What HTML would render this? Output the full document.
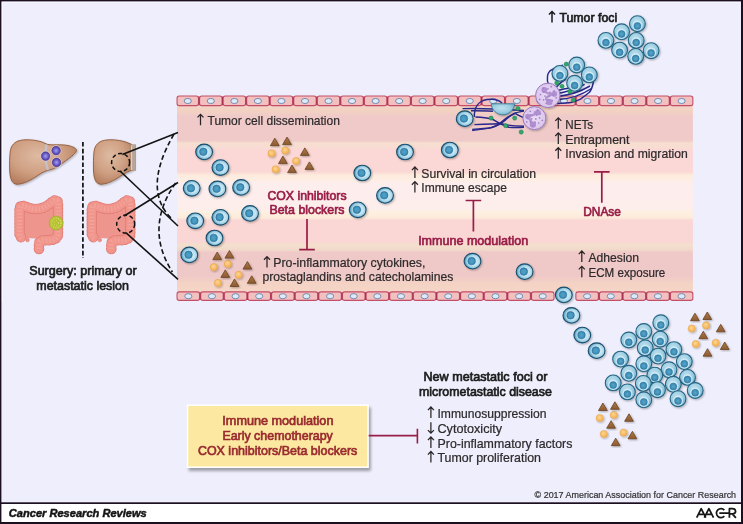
<!DOCTYPE html>
<html><head><meta charset="utf-8"><title>Figure</title>
<style>html,body{margin:0;padding:0;background:#EEEEFC;} svg{will-change:transform;} svg text{font-family:"Liberation Sans", sans-serif;}</style>
</head><body>
<svg width="743" height="524" viewBox="0 0 743 524" style="display:block">

<defs>
 <linearGradient id="vessel" x1="0" y1="105" x2="0" y2="292" gradientUnits="userSpaceOnUse">
  <stop offset="0.0000" stop-color="#F3D4C3"/>
  <stop offset="0.0374" stop-color="#F2D1C3"/>
  <stop offset="0.0588" stop-color="#EFCAC8"/>
  <stop offset="0.1898" stop-color="#EFCAC9"/>
  <stop offset="0.2032" stop-color="#F6DED0"/>
  <stop offset="0.2246" stop-color="#F8DDD2"/>
  <stop offset="0.2380" stop-color="#FBD8D5"/>
  <stop offset="0.3583" stop-color="#FBD8D5"/>
  <stop offset="0.3743" stop-color="#FDEBDC"/>
  <stop offset="0.4011" stop-color="#FDEDE4"/>
  <stop offset="0.4225" stop-color="#FDEEEE"/>
  <stop offset="0.5561" stop-color="#FDEEEC"/>
  <stop offset="0.5749" stop-color="#FDF0E0"/>
  <stop offset="0.6016" stop-color="#FDEBDC"/>
  <stop offset="0.6176" stop-color="#FAD6D4"/>
  <stop offset="0.7326" stop-color="#FAD6D4"/>
  <stop offset="0.7460" stop-color="#F4DFCD"/>
  <stop offset="0.7727" stop-color="#F2DACB"/>
  <stop offset="0.7888" stop-color="#EFC9C7"/>
  <stop offset="0.9144" stop-color="#EFC9C7"/>
  <stop offset="0.9572" stop-color="#F4D3C5"/>
  <stop offset="1.0000" stop-color="#F5D5C5"/>
 </linearGradient>
 <radialGradient id="tcFill" cx="0.45" cy="0.38" r="0.65">
  <stop offset="0" stop-color="#C0E1EF"/>
  <stop offset="0.55" stop-color="#9FCFE3"/>
  <stop offset="0.85" stop-color="#7DB9D4"/>
  <stop offset="1" stop-color="#62A6C7"/>
 </radialGradient>
 <radialGradient id="tcNuc" cx="0.5" cy="0.5" r="0.5">
  <stop offset="0" stop-color="#5AA6CA"/>
  <stop offset="1" stop-color="#3584AE"/>
 </radialGradient>
 <radialGradient id="ccFill" cx="0.56" cy="0.5" r="0.55">
  <stop offset="0" stop-color="#D2ECF6"/>
  <stop offset="0.5" stop-color="#C2E4F1"/>
  <stop offset="0.72" stop-color="#A2D1E5"/>
  <stop offset="0.88" stop-color="#66AACB"/>
  <stop offset="1" stop-color="#4A92B8"/>
 </radialGradient>
 <radialGradient id="ccNuc" cx="0.5" cy="0.5" r="0.5">
  <stop offset="0" stop-color="#52A2C7"/>
  <stop offset="0.7" stop-color="#4393BC"/>
  <stop offset="1" stop-color="#2F7FA9"/>
 </radialGradient>
 <radialGradient id="dotFill" cx="0.45" cy="0.4" r="0.6">
  <stop offset="0" stop-color="#FCD68E"/>
  <stop offset="1" stop-color="#F2AE52"/>
 </radialGradient>
 <linearGradient id="triFill" x1="0" y1="0" x2="0" y2="1">
  <stop offset="0" stop-color="#B07A48"/>
  <stop offset="1" stop-color="#8C5A30"/>
 </linearGradient>
 <radialGradient id="liverFill" cx="0.42" cy="0.36" r="0.72">
  <stop offset="0" stop-color="#DEBBA2"/>
  <stop offset="0.55" stop-color="#CF9F82"/>
  <stop offset="1" stop-color="#B07858"/>
 </radialGradient>
 <radialGradient id="metFill" cx="0.5" cy="0.5" r="0.5">
  <stop offset="0" stop-color="#A8A0EA"/>
  <stop offset="0.55" stop-color="#6F63CE"/>
  <stop offset="1" stop-color="#4B3D9F"/>
 </radialGradient>
 <radialGradient id="neuFill" cx="0.5" cy="0.5" r="0.5">
  <stop offset="0" stop-color="#EADCF4"/>
  <stop offset="1" stop-color="#DCC6EE"/>
 </radialGradient>
 <filter id="sh" x="-30%" y="-30%" width="160%" height="160%">
  <feGaussianBlur in="SourceAlpha" stdDeviation="1"/>
  <feOffset dx="1" dy="1.2" result="o"/>
  <feComponentTransfer><feFuncA type="linear" slope="0.3"/></feComponentTransfer>
  <feMerge><feMergeNode/><feMergeNode in="SourceGraphic"/></feMerge>
 </filter>
 <filter id="boxsh" x="-10%" y="-10%" width="125%" height="135%">
  <feGaussianBlur in="SourceAlpha" stdDeviation="1.5"/>
  <feOffset dx="1.5" dy="2.5" result="o"/>
  <feComponentTransfer><feFuncA type="linear" slope="0.35"/></feComponentTransfer>
  <feMerge><feMergeNode/><feMergeNode in="SourceGraphic"/></feMerge>
 </filter>
 <g id="tc">
  <circle r="7.9" fill="url(#tcFill)" stroke="#266584" stroke-width="1.1"/>
  <circle cy="2" r="5.1" fill="#D2EDF7" opacity="0.85"/>
  <circle cy="2.2" r="3.5" fill="url(#tcNuc)" stroke="#2C739A" stroke-width="0.5"/>
 </g>
 <g id="cc">
  <ellipse rx="8.4" ry="7.8" fill="url(#ccFill)" stroke="#1D4E6C" stroke-width="1.1"/>
  <circle cx="-0.8" cy="-0.1" r="3.75" fill="url(#ccNuc)" stroke="#2B7199" stroke-width="0.6"/>
 </g>
 <g id="tri">
  <path d="M0,-4.2 L4.4,3.3 L-4.4,3.3 Z" fill="url(#triFill)" stroke="#6A4222" stroke-width="0.8" stroke-linejoin="round"/>
 </g>
 <g id="dot">
  <circle r="3.6" fill="url(#dotFill)" stroke="#E9A24A" stroke-width="0.5"/>
 </g>
 <g id="endo">
  <rect x="0.55" y="0.55" width="22.4" height="9.7" rx="2.2" fill="#F3C2C2" stroke="#BF4563" stroke-width="1.1"/>
  <ellipse cx="11.7" cy="5.6" rx="3.6" ry="2.6" fill="#DCEBF8" stroke="#7487AE" stroke-width="0.9"/>
 </g>
 <g id="endoB">
  <rect x="0.55" y="0.55" width="22.4" height="8.5" rx="2.2" fill="#F3C2C2" stroke="#BF4563" stroke-width="1.1"/>
  <ellipse cx="11.7" cy="4.8" rx="3.6" ry="2.4" fill="#DCEBF8" stroke="#7487AE" stroke-width="0.9"/>
 </g>
</defs>

<rect x="0" y="0" width="743" height="524" fill="#1C0F20"/>
<rect x="1.4" y="1.4" width="739.6" height="500.9" fill="#EEEEFC"/>
<path d="M2.4,302 L2.4,2.4 L740,2.4" stroke="#FAFAFF" stroke-width="0.9" fill="none" opacity="0.8"/>
<rect x="1.4" y="504" width="739.6" height="18" fill="#FFFFFF"/>
<rect x="177" y="105" width="515.9" height="187" fill="url(#vessel)"/>
<rect x="177.05" y="95.95" width="21.44" height="9.70" rx="2.2" fill="#F3C0C0" stroke="#C44E68" stroke-width="1.1"/>
<ellipse cx="187.77" cy="101.00" rx="3.6" ry="2.55" fill="#DDEBF8" stroke="#7385AC" stroke-width="0.95"/>
<rect x="199.59" y="95.95" width="22.44" height="9.70" rx="2.2" fill="#F3C0C0" stroke="#C44E68" stroke-width="1.1"/>
<ellipse cx="210.81" cy="101.00" rx="3.6" ry="2.55" fill="#DDEBF8" stroke="#7385AC" stroke-width="0.95"/>
<rect x="223.13" y="95.95" width="22.44" height="9.70" rx="2.2" fill="#F3C0C0" stroke="#C44E68" stroke-width="1.1"/>
<ellipse cx="234.35" cy="101.00" rx="3.6" ry="2.55" fill="#DDEBF8" stroke="#7385AC" stroke-width="0.95"/>
<rect x="246.67" y="95.95" width="22.44" height="9.70" rx="2.2" fill="#F3C0C0" stroke="#C44E68" stroke-width="1.1"/>
<ellipse cx="257.89" cy="101.00" rx="3.6" ry="2.55" fill="#DDEBF8" stroke="#7385AC" stroke-width="0.95"/>
<rect x="270.21" y="95.95" width="22.44" height="9.70" rx="2.2" fill="#F3C0C0" stroke="#C44E68" stroke-width="1.1"/>
<ellipse cx="281.43" cy="101.00" rx="3.6" ry="2.55" fill="#DDEBF8" stroke="#7385AC" stroke-width="0.95"/>
<rect x="293.75" y="95.95" width="22.44" height="9.70" rx="2.2" fill="#F3C0C0" stroke="#C44E68" stroke-width="1.1"/>
<ellipse cx="304.97" cy="101.00" rx="3.6" ry="2.55" fill="#DDEBF8" stroke="#7385AC" stroke-width="0.95"/>
<rect x="317.29" y="95.95" width="22.44" height="9.70" rx="2.2" fill="#F3C0C0" stroke="#C44E68" stroke-width="1.1"/>
<ellipse cx="328.51" cy="101.00" rx="3.6" ry="2.55" fill="#DDEBF8" stroke="#7385AC" stroke-width="0.95"/>
<rect x="340.83" y="95.95" width="22.44" height="9.70" rx="2.2" fill="#F3C0C0" stroke="#C44E68" stroke-width="1.1"/>
<ellipse cx="352.05" cy="101.00" rx="3.6" ry="2.55" fill="#DDEBF8" stroke="#7385AC" stroke-width="0.95"/>
<rect x="364.37" y="95.95" width="22.44" height="9.70" rx="2.2" fill="#F3C0C0" stroke="#C44E68" stroke-width="1.1"/>
<ellipse cx="375.59" cy="101.00" rx="3.6" ry="2.55" fill="#DDEBF8" stroke="#7385AC" stroke-width="0.95"/>
<rect x="387.91" y="95.95" width="22.44" height="9.70" rx="2.2" fill="#F3C0C0" stroke="#C44E68" stroke-width="1.1"/>
<ellipse cx="399.13" cy="101.00" rx="3.6" ry="2.55" fill="#DDEBF8" stroke="#7385AC" stroke-width="0.95"/>
<rect x="411.45" y="95.95" width="22.44" height="9.70" rx="2.2" fill="#F3C0C0" stroke="#C44E68" stroke-width="1.1"/>
<ellipse cx="422.67" cy="101.00" rx="3.6" ry="2.55" fill="#DDEBF8" stroke="#7385AC" stroke-width="0.95"/>
<rect x="434.99" y="95.95" width="22.44" height="9.70" rx="2.2" fill="#F3C0C0" stroke="#C44E68" stroke-width="1.1"/>
<ellipse cx="446.21" cy="101.00" rx="3.6" ry="2.55" fill="#DDEBF8" stroke="#7385AC" stroke-width="0.95"/>
<rect x="458.53" y="95.95" width="22.44" height="9.70" rx="2.2" fill="#F3C0C0" stroke="#C44E68" stroke-width="1.1"/>
<ellipse cx="469.75" cy="101.00" rx="3.6" ry="2.55" fill="#DDEBF8" stroke="#7385AC" stroke-width="0.95"/>
<rect x="482.07" y="95.95" width="22.44" height="9.70" rx="2.2" fill="#F3C0C0" stroke="#C44E68" stroke-width="1.1"/>
<ellipse cx="493.29" cy="101.00" rx="3.6" ry="2.55" fill="#DDEBF8" stroke="#7385AC" stroke-width="0.95"/>
<rect x="505.61" y="95.95" width="22.44" height="9.70" rx="2.2" fill="#F3C0C0" stroke="#C44E68" stroke-width="1.1"/>
<ellipse cx="516.83" cy="101.00" rx="3.6" ry="2.55" fill="#DDEBF8" stroke="#7385AC" stroke-width="0.95"/>
<rect x="529.15" y="95.95" width="22.44" height="9.70" rx="2.2" fill="#F3C0C0" stroke="#C44E68" stroke-width="1.1"/>
<ellipse cx="540.37" cy="101.00" rx="3.6" ry="2.55" fill="#DDEBF8" stroke="#7385AC" stroke-width="0.95"/>
<rect x="552.69" y="95.95" width="22.44" height="9.70" rx="2.2" fill="#F3C0C0" stroke="#C44E68" stroke-width="1.1"/>
<ellipse cx="563.91" cy="101.00" rx="3.6" ry="2.55" fill="#DDEBF8" stroke="#7385AC" stroke-width="0.95"/>
<rect x="576.23" y="95.95" width="22.44" height="9.70" rx="2.2" fill="#F3C0C0" stroke="#C44E68" stroke-width="1.1"/>
<ellipse cx="587.45" cy="101.00" rx="3.6" ry="2.55" fill="#DDEBF8" stroke="#7385AC" stroke-width="0.95"/>
<rect x="599.77" y="95.95" width="22.44" height="9.70" rx="2.2" fill="#F3C0C0" stroke="#C44E68" stroke-width="1.1"/>
<ellipse cx="610.99" cy="101.00" rx="3.6" ry="2.55" fill="#DDEBF8" stroke="#7385AC" stroke-width="0.95"/>
<rect x="623.31" y="95.95" width="22.44" height="9.70" rx="2.2" fill="#F3C0C0" stroke="#C44E68" stroke-width="1.1"/>
<ellipse cx="634.53" cy="101.00" rx="3.6" ry="2.55" fill="#DDEBF8" stroke="#7385AC" stroke-width="0.95"/>
<rect x="646.85" y="95.95" width="22.44" height="9.70" rx="2.2" fill="#F3C0C0" stroke="#C44E68" stroke-width="1.1"/>
<ellipse cx="658.07" cy="101.00" rx="3.6" ry="2.55" fill="#DDEBF8" stroke="#7385AC" stroke-width="0.95"/>
<rect x="670.39" y="95.95" width="22.44" height="9.70" rx="2.2" fill="#F3C0C0" stroke="#C44E68" stroke-width="1.1"/>
<ellipse cx="681.61" cy="101.00" rx="3.6" ry="2.55" fill="#DDEBF8" stroke="#7385AC" stroke-width="0.95"/>
<rect x="177.05" y="291.85" width="22.53" height="8.50" rx="2.2" fill="#F3C0C0" stroke="#C44E68" stroke-width="1.1"/>
<ellipse cx="188.31" cy="296.20" rx="3.6" ry="2.55" fill="#DDEBF8" stroke="#7385AC" stroke-width="0.95"/>
<rect x="200.68" y="291.85" width="22.53" height="8.50" rx="2.2" fill="#F3C0C0" stroke="#C44E68" stroke-width="1.1"/>
<ellipse cx="211.94" cy="296.20" rx="3.6" ry="2.55" fill="#DDEBF8" stroke="#7385AC" stroke-width="0.95"/>
<rect x="224.31" y="291.85" width="22.53" height="8.50" rx="2.2" fill="#F3C0C0" stroke="#C44E68" stroke-width="1.1"/>
<ellipse cx="235.57" cy="296.20" rx="3.6" ry="2.55" fill="#DDEBF8" stroke="#7385AC" stroke-width="0.95"/>
<rect x="247.94" y="291.85" width="22.53" height="8.50" rx="2.2" fill="#F3C0C0" stroke="#C44E68" stroke-width="1.1"/>
<ellipse cx="259.20" cy="296.20" rx="3.6" ry="2.55" fill="#DDEBF8" stroke="#7385AC" stroke-width="0.95"/>
<rect x="271.57" y="291.85" width="22.53" height="8.50" rx="2.2" fill="#F3C0C0" stroke="#C44E68" stroke-width="1.1"/>
<ellipse cx="282.83" cy="296.20" rx="3.6" ry="2.55" fill="#DDEBF8" stroke="#7385AC" stroke-width="0.95"/>
<rect x="295.20" y="291.85" width="22.53" height="8.50" rx="2.2" fill="#F3C0C0" stroke="#C44E68" stroke-width="1.1"/>
<ellipse cx="306.46" cy="296.20" rx="3.6" ry="2.55" fill="#DDEBF8" stroke="#7385AC" stroke-width="0.95"/>
<rect x="318.83" y="291.85" width="22.53" height="8.50" rx="2.2" fill="#F3C0C0" stroke="#C44E68" stroke-width="1.1"/>
<ellipse cx="330.09" cy="296.20" rx="3.6" ry="2.55" fill="#DDEBF8" stroke="#7385AC" stroke-width="0.95"/>
<rect x="342.46" y="291.85" width="22.53" height="8.50" rx="2.2" fill="#F3C0C0" stroke="#C44E68" stroke-width="1.1"/>
<ellipse cx="353.72" cy="296.20" rx="3.6" ry="2.55" fill="#DDEBF8" stroke="#7385AC" stroke-width="0.95"/>
<rect x="366.09" y="291.85" width="22.53" height="8.50" rx="2.2" fill="#F3C0C0" stroke="#C44E68" stroke-width="1.1"/>
<ellipse cx="377.35" cy="296.20" rx="3.6" ry="2.55" fill="#DDEBF8" stroke="#7385AC" stroke-width="0.95"/>
<rect x="389.72" y="291.85" width="22.53" height="8.50" rx="2.2" fill="#F3C0C0" stroke="#C44E68" stroke-width="1.1"/>
<ellipse cx="400.98" cy="296.20" rx="3.6" ry="2.55" fill="#DDEBF8" stroke="#7385AC" stroke-width="0.95"/>
<rect x="413.35" y="291.85" width="22.53" height="8.50" rx="2.2" fill="#F3C0C0" stroke="#C44E68" stroke-width="1.1"/>
<ellipse cx="424.62" cy="296.20" rx="3.6" ry="2.55" fill="#DDEBF8" stroke="#7385AC" stroke-width="0.95"/>
<rect x="436.98" y="291.85" width="22.53" height="8.50" rx="2.2" fill="#F3C0C0" stroke="#C44E68" stroke-width="1.1"/>
<ellipse cx="448.25" cy="296.20" rx="3.6" ry="2.55" fill="#DDEBF8" stroke="#7385AC" stroke-width="0.95"/>
<rect x="460.61" y="291.85" width="22.53" height="8.50" rx="2.2" fill="#F3C0C0" stroke="#C44E68" stroke-width="1.1"/>
<ellipse cx="471.88" cy="296.20" rx="3.6" ry="2.55" fill="#DDEBF8" stroke="#7385AC" stroke-width="0.95"/>
<rect x="484.24" y="291.85" width="22.53" height="8.50" rx="2.2" fill="#F3C0C0" stroke="#C44E68" stroke-width="1.1"/>
<ellipse cx="495.50" cy="296.20" rx="3.6" ry="2.55" fill="#DDEBF8" stroke="#7385AC" stroke-width="0.95"/>
<rect x="507.87" y="291.85" width="22.53" height="8.50" rx="2.2" fill="#F3C0C0" stroke="#C44E68" stroke-width="1.1"/>
<ellipse cx="519.13" cy="296.20" rx="3.6" ry="2.55" fill="#DDEBF8" stroke="#7385AC" stroke-width="0.95"/>
<rect x="531.50" y="291.85" width="22.53" height="8.50" rx="2.2" fill="#F3C0C0" stroke="#C44E68" stroke-width="1.1"/>
<ellipse cx="542.76" cy="296.20" rx="3.6" ry="2.55" fill="#DDEBF8" stroke="#7385AC" stroke-width="0.95"/>
<rect x="575.85" y="291.85" width="22.52" height="8.50" rx="2.2" fill="#F3C0C0" stroke="#C44E68" stroke-width="1.1"/>
<ellipse cx="587.11" cy="296.20" rx="3.6" ry="2.55" fill="#DDEBF8" stroke="#7385AC" stroke-width="0.95"/>
<rect x="599.47" y="291.85" width="22.52" height="8.50" rx="2.2" fill="#F3C0C0" stroke="#C44E68" stroke-width="1.1"/>
<ellipse cx="610.73" cy="296.20" rx="3.6" ry="2.55" fill="#DDEBF8" stroke="#7385AC" stroke-width="0.95"/>
<rect x="623.09" y="291.85" width="22.52" height="8.50" rx="2.2" fill="#F3C0C0" stroke="#C44E68" stroke-width="1.1"/>
<ellipse cx="634.35" cy="296.20" rx="3.6" ry="2.55" fill="#DDEBF8" stroke="#7385AC" stroke-width="0.95"/>
<rect x="646.71" y="291.85" width="22.52" height="8.50" rx="2.2" fill="#F3C0C0" stroke="#C44E68" stroke-width="1.1"/>
<ellipse cx="657.97" cy="296.20" rx="3.6" ry="2.55" fill="#DDEBF8" stroke="#7385AC" stroke-width="0.95"/>
<rect x="670.33" y="291.85" width="22.52" height="8.50" rx="2.2" fill="#F3C0C0" stroke="#C44E68" stroke-width="1.1"/>
<ellipse cx="681.59" cy="296.20" rx="3.6" ry="2.55" fill="#DDEBF8" stroke="#7385AC" stroke-width="0.95"/>
<line x1="199.04" y1="96.4" x2="199.04" y2="105.2" stroke="#A83250" stroke-width="1.1"/>
<line x1="222.58" y1="96.4" x2="222.58" y2="105.2" stroke="#A83250" stroke-width="1.1"/>
<line x1="246.12" y1="96.4" x2="246.12" y2="105.2" stroke="#A83250" stroke-width="1.1"/>
<line x1="269.66" y1="96.4" x2="269.66" y2="105.2" stroke="#A83250" stroke-width="1.1"/>
<line x1="293.20" y1="96.4" x2="293.20" y2="105.2" stroke="#A83250" stroke-width="1.1"/>
<line x1="316.74" y1="96.4" x2="316.74" y2="105.2" stroke="#A83250" stroke-width="1.1"/>
<line x1="340.28" y1="96.4" x2="340.28" y2="105.2" stroke="#A83250" stroke-width="1.1"/>
<line x1="363.82" y1="96.4" x2="363.82" y2="105.2" stroke="#A83250" stroke-width="1.1"/>
<line x1="387.36" y1="96.4" x2="387.36" y2="105.2" stroke="#A83250" stroke-width="1.1"/>
<line x1="410.90" y1="96.4" x2="410.90" y2="105.2" stroke="#A83250" stroke-width="1.1"/>
<line x1="434.44" y1="96.4" x2="434.44" y2="105.2" stroke="#A83250" stroke-width="1.1"/>
<line x1="457.98" y1="96.4" x2="457.98" y2="105.2" stroke="#A83250" stroke-width="1.1"/>
<line x1="481.52" y1="96.4" x2="481.52" y2="105.2" stroke="#A83250" stroke-width="1.1"/>
<line x1="505.06" y1="96.4" x2="505.06" y2="105.2" stroke="#A83250" stroke-width="1.1"/>
<line x1="528.60" y1="96.4" x2="528.60" y2="105.2" stroke="#A83250" stroke-width="1.1"/>
<line x1="552.14" y1="96.4" x2="552.14" y2="105.2" stroke="#A83250" stroke-width="1.1"/>
<line x1="575.68" y1="96.4" x2="575.68" y2="105.2" stroke="#A83250" stroke-width="1.1"/>
<line x1="599.22" y1="96.4" x2="599.22" y2="105.2" stroke="#A83250" stroke-width="1.1"/>
<line x1="622.76" y1="96.4" x2="622.76" y2="105.2" stroke="#A83250" stroke-width="1.1"/>
<line x1="646.30" y1="96.4" x2="646.30" y2="105.2" stroke="#A83250" stroke-width="1.1"/>
<line x1="669.84" y1="96.4" x2="669.84" y2="105.2" stroke="#A83250" stroke-width="1.1"/>
<line x1="200.13" y1="292.3" x2="200.13" y2="299.9" stroke="#A83250" stroke-width="1.1"/>
<line x1="223.76" y1="292.3" x2="223.76" y2="299.9" stroke="#A83250" stroke-width="1.1"/>
<line x1="247.39" y1="292.3" x2="247.39" y2="299.9" stroke="#A83250" stroke-width="1.1"/>
<line x1="271.02" y1="292.3" x2="271.02" y2="299.9" stroke="#A83250" stroke-width="1.1"/>
<line x1="294.65" y1="292.3" x2="294.65" y2="299.9" stroke="#A83250" stroke-width="1.1"/>
<line x1="318.28" y1="292.3" x2="318.28" y2="299.9" stroke="#A83250" stroke-width="1.1"/>
<line x1="341.91" y1="292.3" x2="341.91" y2="299.9" stroke="#A83250" stroke-width="1.1"/>
<line x1="365.54" y1="292.3" x2="365.54" y2="299.9" stroke="#A83250" stroke-width="1.1"/>
<line x1="389.17" y1="292.3" x2="389.17" y2="299.9" stroke="#A83250" stroke-width="1.1"/>
<line x1="412.80" y1="292.3" x2="412.80" y2="299.9" stroke="#A83250" stroke-width="1.1"/>
<line x1="436.43" y1="292.3" x2="436.43" y2="299.9" stroke="#A83250" stroke-width="1.1"/>
<line x1="460.06" y1="292.3" x2="460.06" y2="299.9" stroke="#A83250" stroke-width="1.1"/>
<line x1="483.69" y1="292.3" x2="483.69" y2="299.9" stroke="#A83250" stroke-width="1.1"/>
<line x1="507.32" y1="292.3" x2="507.32" y2="299.9" stroke="#A83250" stroke-width="1.1"/>
<line x1="530.95" y1="292.3" x2="530.95" y2="299.9" stroke="#A83250" stroke-width="1.1"/>
<line x1="598.92" y1="292.3" x2="598.92" y2="299.9" stroke="#A83250" stroke-width="1.1"/>
<line x1="622.54" y1="292.3" x2="622.54" y2="299.9" stroke="#A83250" stroke-width="1.1"/>
<line x1="646.16" y1="292.3" x2="646.16" y2="299.9" stroke="#A83250" stroke-width="1.1"/>
<line x1="669.78" y1="292.3" x2="669.78" y2="299.9" stroke="#A83250" stroke-width="1.1"/>
<use href="#cc" x="204.1" y="151.9" filter="url(#sh)"/>
<use href="#cc" x="220.4" y="167.6" filter="url(#sh)"/>
<use href="#cc" x="191.7" y="188.3" filter="url(#sh)"/>
<use href="#cc" x="217.4" y="188.9" filter="url(#sh)"/>
<use href="#cc" x="241.1" y="187.4" filter="url(#sh)"/>
<use href="#cc" x="195.2" y="220.8" filter="url(#sh)"/>
<use href="#cc" x="220.4" y="217.3" filter="url(#sh)"/>
<use href="#cc" x="250" y="213.4" filter="url(#sh)"/>
<use href="#cc" x="214.5" y="238" filter="url(#sh)"/>
<use href="#cc" x="189.3" y="254.9" filter="url(#sh)"/>
<use href="#cc" x="362.3" y="173" filter="url(#sh)"/>
<use href="#cc" x="405" y="152" filter="url(#sh)"/>
<use href="#cc" x="449.8" y="150" filter="url(#sh)"/>
<use href="#cc" x="385" y="195.4" filter="url(#sh)"/>
<use href="#cc" x="357.7" y="209.8" filter="url(#sh)"/>
<use href="#cc" x="472.5" y="261.2" filter="url(#sh)"/>
<use href="#cc" x="524.6" y="271.7" filter="url(#sh)"/>
<use href="#cc" x="563.8" y="294.9" filter="url(#sh)"/>
<use href="#cc" x="571.4" y="315.4" filter="url(#sh)"/>
<use href="#cc" x="582.3" y="335.1" filter="url(#sh)"/>
<use href="#cc" x="596.6" y="350.7" filter="url(#sh)"/>
<use href="#dot" x="271.5" y="153.4" filter="url(#sh)"/>
<use href="#dot" x="285.3" y="150.5" filter="url(#sh)"/>
<use href="#dot" x="296.1" y="161" filter="url(#sh)"/>
<use href="#dot" x="275.6" y="169.3" filter="url(#sh)"/>
<use href="#tri" x="274.8" y="142.4" filter="url(#sh)"/>
<use href="#tri" x="287" y="141.3" filter="url(#sh)"/>
<use href="#tri" x="304.8" y="152.1" filter="url(#sh)"/>
<use href="#tri" x="282.9" y="160.3" filter="url(#sh)"/>
<use href="#tri" x="309.4" y="166.1" filter="url(#sh)"/>
<use href="#tri" x="292" y="169.3" filter="url(#sh)"/>
<use href="#dot" x="213.8" y="267.1" filter="url(#sh)"/>
<use href="#dot" x="227.7" y="263.9" filter="url(#sh)"/>
<use href="#dot" x="238.6" y="274.8" filter="url(#sh)"/>
<use href="#dot" x="217.9" y="282.9" filter="url(#sh)"/>
<use href="#tri" x="217.2" y="256.3" filter="url(#sh)"/>
<use href="#tri" x="229.4" y="254.8" filter="url(#sh)"/>
<use href="#tri" x="247.4" y="265.8" filter="url(#sh)"/>
<use href="#tri" x="225.3" y="274.1" filter="url(#sh)"/>
<use href="#tri" x="251.7" y="280" filter="url(#sh)"/>
<use href="#tri" x="234.5" y="283.2" filter="url(#sh)"/>
<use href="#dot" x="691.7" y="328.5" filter="url(#sh)"/>
<use href="#dot" x="706.1" y="325.4" filter="url(#sh)"/>
<use href="#dot" x="695.8" y="344" filter="url(#sh)"/>
<use href="#dot" x="715.7" y="342.8" filter="url(#sh)"/>
<use href="#tri" x="694.9" y="317.4" filter="url(#sh)"/>
<use href="#tri" x="707.3" y="316.2" filter="url(#sh)"/>
<use href="#tri" x="720.7" y="328.5" filter="url(#sh)"/>
<use href="#tri" x="703.3" y="335.4" filter="url(#sh)"/>
<use href="#tri" x="724.7" y="346.2" filter="url(#sh)"/>
<use href="#tri" x="707.5" y="352.9" filter="url(#sh)"/>
<use href="#dot" x="599.7" y="418" filter="url(#sh)"/>
<use href="#dot" x="613.8" y="415" filter="url(#sh)"/>
<use href="#dot" x="603.8" y="434" filter="url(#sh)"/>
<use href="#dot" x="623.5" y="432.6" filter="url(#sh)"/>
<use href="#tri" x="602.9" y="407.2" filter="url(#sh)"/>
<use href="#tri" x="614.9" y="406" filter="url(#sh)"/>
<use href="#tri" x="629" y="418" filter="url(#sh)"/>
<use href="#tri" x="611.1" y="424.9" filter="url(#sh)"/>
<use href="#tri" x="632.4" y="435.5" filter="url(#sh)"/>
<use href="#tri" x="615.7" y="442.4" filter="url(#sh)"/>
<path d="M548.9,85.4 C546,79 547,72 552,69.7 C555,67.5 558,66.2 563,65.2" stroke="#28288A" stroke-width="1.45" fill="none"/>
<path d="M593.5,81.5 C592.5,87 591,91 588.8,92.8 C585,96 582,98 580.4,99.1 C577,100.8 574,101.8 572,102.2 C568,103 564,103.3 557,103.5" stroke="#28288A" stroke-width="1.45" fill="none"/>
<path d="M557,90.5 C563,89 570,88 576.2,86.5" stroke="#28288A" stroke-width="1.45" fill="none"/>
<path d="M558,93.5 C566,92 576,89 584.6,84.4" stroke="#28288A" stroke-width="1.45" fill="none"/>
<path d="M557.5,96.5 C566,95.5 578,93 590,86" stroke="#28288A" stroke-width="1.45" fill="none"/>
<path d="M556,87.5 C559,84 562,81 566,79" stroke="#28288A" stroke-width="1.45" fill="none"/>
<path d="M558.5,99.5 C568,99 580,96 591.5,88.5" stroke="#28288A" stroke-width="1.45" fill="none"/>
<path d="M474.4,117 C474,108 478,101 487,99.5 C494,98.5 499,100 502,103" stroke="#28288A" stroke-width="1.45" fill="none"/>
<path d="M462.5,108.6 C475,108.2 485,108.5 493,109 C505,109.5 515,110 524,110.5" stroke="#28288A" stroke-width="1.45" fill="none"/>
<path d="M471,110.8 C480,110.6 486,111 493,111.2" stroke="#28288A" stroke-width="1.45" fill="none"/>
<path d="M475.5,117 C482,117.3 488,118 491,118.8 C495,120 497,122.5 500.2,123.5 C505,125 512,126 524,126.2" stroke="#28288A" stroke-width="1.45" fill="none"/>
<path d="M472.2,129.4 C480,129 487,128.5 491,127.8 C495,127 498,125 500.2,123 C504,119.5 508,116.5 515.3,113.3" stroke="#28288A" stroke-width="1.45" fill="none"/>
<path d="M474.4,124.6 C483,124.3 493,124 500.2,123.8 C504,125 506,126.8 509,127.3 C514,127.6 519,127.5 524,127.3" stroke="#28288A" stroke-width="1.45" fill="none"/>
<path d="M523.9,111.1 C519,112 516,112.5 514.2,113.3 C510,115.5 508,117.5 505.6,119.8 C502,122.5 500,124 498,125.1 C494,126.8 490,128 487.3,128.4 C482,129.2 477,129.8 472.2,130.5" stroke="#28288A" stroke-width="1.45" fill="none"/>
<path d="M515.3,113.3 C518,115 521,116.5 523.9,118.1" stroke="#28288A" stroke-width="1.45" fill="none"/>
<g filter="url(#sh)"><path d="M491.2,103.8 L514.6,103.8 C514.2,110 508.7,114.9 502.9,114.9 C497,114.9 491.6,110 491.2,103.8 Z" fill="url(#tcFill)" stroke="#3A7C96" stroke-width="0.9"/></g>
<g filter="url(#sh)"><circle cx="534.4" cy="118.1" r="11.5" fill="url(#neuFill)" stroke="#9A7ABE" stroke-width="1"/></g>
<path d="M537.9,112.6 C533.4,115.1 530.4,116.1 527.9,116.6 C530.4,120.1 531.4,122.1 532.9,124.6" stroke="#B293D2" stroke-width="2.4" fill="none"/>
<circle cx="527.9" cy="116.6" r="2.8" fill="#B090D0"/>
<circle cx="537.9" cy="112.6" r="2.9" fill="#B090D0"/>
<circle cx="532.9" cy="124.6" r="3.2" fill="#B090D0"/>
<circle cx="535.8" cy="118.9" r="0.85" fill="#A282C6"/>
<circle cx="531.7" cy="118.8" r="0.85" fill="#A282C6"/>
<circle cx="536.4" cy="115.1" r="0.85" fill="#A282C6"/>
<circle cx="535.0" cy="122.2" r="0.85" fill="#A282C6"/>
<circle cx="530.7" cy="115.1" r="0.85" fill="#A282C6"/>
<circle cx="539.6" cy="117.8" r="0.85" fill="#A282C6"/>
<circle cx="530.5" cy="122.2" r="0.85" fill="#A282C6"/>
<circle cx="534.5" cy="112.0" r="0.85" fill="#A282C6"/>
<circle cx="538.7" cy="123.0" r="0.85" fill="#A282C6"/>
<circle cx="527.5" cy="117.4" r="0.85" fill="#A282C6"/>
<circle cx="540.3" cy="113.8" r="0.85" fill="#A282C6"/>
<circle cx="532.9" cy="125.6" r="0.85" fill="#A282C6"/>
<circle cx="530.3" cy="111.3" r="0.85" fill="#A282C6"/>
<circle cx="542.3" cy="120.4" r="0.85" fill="#A282C6"/>
<circle cx="526.7" cy="121.9" r="0.85" fill="#A282C6"/>
<circle cx="537.6" cy="109.9" r="0.85" fill="#A282C6"/>
<g filter="url(#sh)"><circle cx="547.8" cy="95.4" r="12.2" fill="url(#neuFill)" stroke="#9A7ABE" stroke-width="1"/></g>
<path d="M544.3,89.9 C546.8,92.4 543.8,93.4 554.3,93.9 C543.8,97.4 544.8,99.4 549.3,101.9" stroke="#B293D2" stroke-width="2.4" fill="none"/>
<circle cx="554.3" cy="93.9" r="2.8" fill="#B090D0"/>
<circle cx="544.3" cy="89.9" r="2.9" fill="#B090D0"/>
<circle cx="549.3" cy="101.9" r="3.2" fill="#B090D0"/>
<circle cx="549.3" cy="96.2" r="0.85" fill="#A282C6"/>
<circle cx="545.0" cy="96.1" r="0.85" fill="#A282C6"/>
<circle cx="549.9" cy="92.3" r="0.85" fill="#A282C6"/>
<circle cx="548.5" cy="99.8" r="0.85" fill="#A282C6"/>
<circle cx="543.9" cy="92.2" r="0.85" fill="#A282C6"/>
<circle cx="553.4" cy="95.0" r="0.85" fill="#A282C6"/>
<circle cx="543.6" cy="99.8" r="0.85" fill="#A282C6"/>
<circle cx="547.9" cy="88.9" r="0.85" fill="#A282C6"/>
<circle cx="552.4" cy="100.6" r="0.85" fill="#A282C6"/>
<circle cx="540.5" cy="94.6" r="0.85" fill="#A282C6"/>
<circle cx="554.0" cy="90.8" r="0.85" fill="#A282C6"/>
<circle cx="546.2" cy="103.3" r="0.85" fill="#A282C6"/>
<circle cx="543.4" cy="88.2" r="0.85" fill="#A282C6"/>
<circle cx="556.2" cy="97.8" r="0.85" fill="#A282C6"/>
<circle cx="539.7" cy="99.4" r="0.85" fill="#A282C6"/>
<circle cx="551.2" cy="86.7" r="0.85" fill="#A282C6"/>
<use href="#cc" x="464.7" y="118.7" filter="url(#sh)"/>
<use href="#tc" x="576.7" y="65" filter="url(#sh)"/>
<use href="#tc" x="559.9" y="73.4" filter="url(#sh)"/>
<use href="#tc" x="589.3" y="74.9" filter="url(#sh)"/>
<use href="#tc" x="574.6" y="83.3" filter="url(#sh)"/>
<circle cx="566.2" cy="64.2" r="2.1" fill="#2FA868" stroke="#1E7A48" stroke-width="0.5"/>
<circle cx="556.8" cy="83.1" r="2.1" fill="#2FA868" stroke="#1E7A48" stroke-width="0.5"/>
<circle cx="562" cy="86.3" r="2.1" fill="#2FA868" stroke="#1E7A48" stroke-width="0.5"/>
<circle cx="569.9" cy="91.7" r="2.1" fill="#2FA868" stroke="#1E7A48" stroke-width="0.5"/>
<circle cx="573.2" cy="100.1" r="2.1" fill="#2FA868" stroke="#1E7A48" stroke-width="0.5"/>
<circle cx="491.1" cy="118.1" r="2.1" fill="#2FA868" stroke="#1E7A48" stroke-width="0.5"/>
<circle cx="518" cy="108.5" r="2.1" fill="#2FA868" stroke="#1E7A48" stroke-width="0.5"/>
<circle cx="514.7" cy="118.1" r="2.1" fill="#2FA868" stroke="#1E7A48" stroke-width="0.5"/>
<circle cx="505.6" cy="125.7" r="2.1" fill="#2FA868" stroke="#1E7A48" stroke-width="0.5"/>
<circle cx="521.2" cy="132.1" r="2.1" fill="#2FA868" stroke="#1E7A48" stroke-width="0.5"/>
<use href="#tc" x="637.4" y="23.7" filter="url(#sh)"/>
<use href="#tc" x="621.6" y="31.8" filter="url(#sh)"/>
<use href="#tc" x="605.9" y="40.4" filter="url(#sh)"/>
<use href="#tc" x="636.2" y="40.4" filter="url(#sh)"/>
<use href="#tc" x="619.6" y="50.1" filter="url(#sh)"/>
<use href="#tc" x="651.1" y="50.7" filter="url(#sh)"/>
<use href="#tc" x="635.7" y="56.4" filter="url(#sh)"/>
<use href="#tc" x="660.8" y="322.8" filter="url(#sh)"/>
<use href="#tc" x="643.8" y="331.5" filter="url(#sh)"/>
<use href="#tc" x="628.8" y="340" filter="url(#sh)"/>
<use href="#tc" x="660.2" y="339.2" filter="url(#sh)"/>
<use href="#tc" x="645.2" y="347.9" filter="url(#sh)"/>
<use href="#tc" x="673.9" y="349.6" filter="url(#sh)"/>
<use href="#tc" x="620.6" y="359.1" filter="url(#sh)"/>
<use href="#tc" x="658" y="356.1" filter="url(#sh)"/>
<use href="#tc" x="643.8" y="363.8" filter="url(#sh)"/>
<use href="#tc" x="684.3" y="361.6" filter="url(#sh)"/>
<use href="#tc" x="669" y="369.8" filter="url(#sh)"/>
<use href="#tc" x="628.8" y="373.3" filter="url(#sh)"/>
<use href="#tc" x="654.8" y="375.2" filter="url(#sh)"/>
<use href="#tc" x="687.5" y="377.4" filter="url(#sh)"/>
<use href="#tc" x="613.2" y="382.9" filter="url(#sh)"/>
<use href="#tc" x="643.3" y="383.4" filter="url(#sh)"/>
<use href="#tc" x="673.3" y="384.3" filter="url(#sh)"/>
<use href="#tc" x="627.4" y="391.9" filter="url(#sh)"/>
<use href="#tc" x="657.5" y="389.7" filter="url(#sh)"/>
<use href="#tc" x="695.2" y="390.5" filter="url(#sh)"/>
<use href="#tc" x="643.8" y="399.8" filter="url(#sh)"/>
<use href="#tc" x="678" y="398.7" filter="url(#sh)"/>
<g filter="url(#sh)"><path d="M10.1,152.9 C10.5,147 13,143 18,141 C24,139 34,139.5 42,142 L47,144.3 C52,145.5 60,144 68,145.5 C73,146.5 76.5,148.5 76.5,150.5 C76,153 72,156 66,160.5 C60,165 55,169 49,170 C45,171 41,173 37,176 C31,180 24,184 17,184.3 C12,184 10,179 9.7,170 C9.5,163 9.7,157 10.1,152.9 Z" fill="url(#liverFill)" stroke="#8E5A38" stroke-width="0.9"/></g>
<path d="M46.5,144.5 C45,152 45,162 48,170" stroke="#C4C0CA" stroke-width="2.4" fill="none"/>
<circle cx="45.6" cy="156.1" r="4.9" fill="none" stroke="#EAD6D2" stroke-width="1" opacity="0.8"/>
<circle cx="45.6" cy="156.1" r="4.3" fill="url(#metFill)" stroke="#43359A" stroke-width="0.5"/>
<circle cx="56.1" cy="150.6" r="4.9" fill="none" stroke="#EAD6D2" stroke-width="1" opacity="0.8"/>
<circle cx="56.1" cy="150.6" r="4.3" fill="url(#metFill)" stroke="#43359A" stroke-width="0.5"/>
<circle cx="56.5" cy="162.4" r="4.9" fill="none" stroke="#EAD6D2" stroke-width="1" opacity="0.8"/>
<circle cx="56.5" cy="162.4" r="4.3" fill="url(#metFill)" stroke="#43359A" stroke-width="0.5"/>
<g transform="translate(83.8,0)" filter="url(#sh)"><path d="M10.1,152.9 C10.5,147 13,143 18,141 C24,139 34,139.5 42,142 L47.5,144.3 L48.8,170 C45,171 41,173 37,176 C31,180 24,184 17,184.3 C12,184 10,179 9.7,170 C9.5,163 9.7,157 10.1,152.9 Z" fill="url(#liverFill)" stroke="#8E5A38" stroke-width="0.9"/></g>
<rect x="130.8" y="144.8" width="5" height="25.8" fill="#B9A597" stroke="#9C8878" stroke-width="0.5"/>
<line x1="131.6" y1="145.5" x2="131.6" y2="170" stroke="#E8E0DA" stroke-width="0.8"/>
<g transform="translate(0,0)">
<path d="M21,208 C30,211 40,213 47,211 C51,209 54,205 57,202 L57,236 C57,238 54,239 50,239 L24,238 C22,238 21,236.5 21,234 Z" fill="#EE958D"/>
<path d="M39,249 L39,244 C39,240.5 43,240.2 48,240.2 C53,240.2 58,239 58,234 L58,204 C58,199.5 55,199.5 52,202 C46,207.5 40,209.5 34,209 C28,208.5 24,205 21,206 C19.5,207 19.5,209 19.5,212 L19.5,233 C19.5,236 21,238 24,238.5" stroke="#E07C74" stroke-width="10.6" stroke-linecap="round" stroke-dasharray="0.01 3.4" fill="none"/>
<path d="M39,249 L39,244 C39,240.5 43,240.2 48,240.2 C53,240.2 58,239 58,234 L58,204 C58,199.5 55,199.5 52,202 C46,207.5 40,209.5 34,209 C28,208.5 24,205 21,206 C19.5,207 19.5,209 19.5,212 L19.5,233 C19.5,236 21,238 24,238.5" stroke="#F1958C" stroke-width="9.0" stroke-linecap="round" stroke-dasharray="0.01 3.4" fill="none"/>
<path d="M39,249 L39,244 C39,240.5 43,240.2 48,240.2 C53,240.2 58,239 58,234 L58,204 C58,199.5 55,199.5 52,202 C46,207.5 40,209.5 34,209 C28,208.5 24,205 21,206 C19.5,207 19.5,209 19.5,212 L19.5,233 C19.5,236 21,238 24,238.5" stroke="#F1958C" stroke-width="7.5" fill="none"/>
<path d="M39,249 L39,244 C39,240.5 43,240.2 48,240.2 C53,240.2 58,239 58,234 L58,204 C58,199.5 55,199.5 52,202 C46,207.5 40,209.5 34,209 C28,208.5 24,205 21,206 C19.5,207 19.5,209 19.5,212 L19.5,233 C19.5,236 21,238 24,238.5" stroke="#F6B0A8" stroke-width="5" stroke-dasharray="1.6 1.8" fill="none" opacity="0.5"/>
<circle cx="27.5" cy="240" r="1.8" fill="#F08F86" stroke="#DE7A72" stroke-width="0.6"/>
</g>
<g transform="translate(72.3,0)">
<path d="M21,208 C30,211 40,213 47,211 C51,209 54,205 57,202 L57,236 C57,238 54,239 50,239 L24,238 C22,238 21,236.5 21,234 Z" fill="#EE958D"/>
<path d="M39,249 L39,244 C39,240.5 43,240.2 48,240.2 C53,240.2 58,239 58,234 L58,204 C58,199.5 55,199.5 52,202 C46,207.5 40,209.5 34,209 C28,208.5 24,205 21,206 C19.5,207 19.5,209 19.5,212 L19.5,233 C19.5,236 21,238 24,238.5" stroke="#E07C74" stroke-width="10.6" stroke-linecap="round" stroke-dasharray="0.01 3.4" fill="none"/>
<path d="M39,249 L39,244 C39,240.5 43,240.2 48,240.2 C53,240.2 58,239 58,234 L58,204 C58,199.5 55,199.5 52,202 C46,207.5 40,209.5 34,209 C28,208.5 24,205 21,206 C19.5,207 19.5,209 19.5,212 L19.5,233 C19.5,236 21,238 24,238.5" stroke="#F1958C" stroke-width="9.0" stroke-linecap="round" stroke-dasharray="0.01 3.4" fill="none"/>
<path d="M39,249 L39,244 C39,240.5 43,240.2 48,240.2 C53,240.2 58,239 58,234 L58,204 C58,199.5 55,199.5 52,202 C46,207.5 40,209.5 34,209 C28,208.5 24,205 21,206 C19.5,207 19.5,209 19.5,212 L19.5,233 C19.5,236 21,238 24,238.5" stroke="#F1958C" stroke-width="7.5" fill="none"/>
<path d="M39,249 L39,244 C39,240.5 43,240.2 48,240.2 C53,240.2 58,239 58,234 L58,204 C58,199.5 55,199.5 52,202 C46,207.5 40,209.5 34,209 C28,208.5 24,205 21,206 C19.5,207 19.5,209 19.5,212 L19.5,233 C19.5,236 21,238 24,238.5" stroke="#F6B0A8" stroke-width="5" stroke-dasharray="1.6 1.8" fill="none" opacity="0.5"/>
<circle cx="27.5" cy="240" r="1.8" fill="#F08F86" stroke="#DE7A72" stroke-width="0.6"/>
</g>
<circle cx="56.2" cy="223" r="7" fill="#B6C234" stroke="#9EAE2A" stroke-width="0.6"/>
<circle cx="56.2" cy="223" r="4.8" fill="none" stroke="#E2E070" stroke-width="1.2" stroke-dasharray="1 1.4"/>
<circle cx="56.2" cy="223" r="2.3" fill="none" stroke="#E2E070" stroke-width="1" stroke-dasharray="1 1.4"/>
<line x1="82.9" y1="142" x2="82.9" y2="258" stroke="#1A1A1A" stroke-width="1.8" stroke-dasharray="4.6 2.2"/>
<circle cx="120.6" cy="162.4" r="9" fill="none" stroke="#111" stroke-width="1.5" stroke-dasharray="4 2.6"/>
<circle cx="125.7" cy="224.1" r="9" fill="none" stroke="#111" stroke-width="1.5" stroke-dasharray="4 2.6"/>
<line x1="122.3" y1="154.4" x2="178" y2="132.4" stroke="#141414" stroke-width="1.6"/>
<line x1="120" y1="171" x2="178" y2="226" stroke="#141414" stroke-width="1.6"/>
<line x1="124.1" y1="216" x2="178" y2="182.5" stroke="#141414" stroke-width="1.6"/>
<line x1="126.1" y1="232.8" x2="178" y2="279.4" stroke="#141414" stroke-width="1.6"/>
<path d="M174,134 Q141.5,190 172,219" fill="none" stroke="#141414" stroke-width="1.6" stroke-dasharray="5 2.8"/>
<path d="M175.6,183 Q144,228 172.4,272" fill="none" stroke="#141414" stroke-width="1.6" stroke-dasharray="5 2.8"/>
<path d="M552.00,22.50 L552.00,11.80 M549.00,14.60 L552.00,11.50 L555.00,14.60" stroke="#1A1A1A" stroke-width="1.5" fill="none"/>
<text x="559.4" y="22.2" font-family='"Liberation Sans", sans-serif' font-size="12.4" font-weight="normal" fill="#1A1A1A" text-anchor="start" textLength="57.8" lengthAdjust="spacingAndGlyphs" stroke="#1A1A1A" stroke-width="0.65" >Tumor foci</text>
<path d="M200.50,125.30 L200.50,114.60 M197.50,117.40 L200.50,114.30 L203.50,117.40" stroke="#2A2426" stroke-width="1.25" fill="none"/>
<text x="207.5" y="125" font-family='"Liberation Sans", sans-serif' font-size="12.4" font-weight="normal" fill="#2E2A2C" text-anchor="start" textLength="132.4" lengthAdjust="spacingAndGlyphs" stroke="#2E2A2C" stroke-width="0.22" >Tumor cell dissemination</text>
<text x="307" y="199.7" font-family='"Liberation Sans", sans-serif' font-size="12.4" font-weight="normal" fill="#991D47" text-anchor="middle" textLength="79.2" lengthAdjust="spacingAndGlyphs" stroke="#991D47" stroke-width="0.65" >COX inhibitors</text>
<text x="307" y="214.2" font-family='"Liberation Sans", sans-serif' font-size="12.4" font-weight="normal" fill="#991D47" text-anchor="middle" textLength="75.1" lengthAdjust="spacingAndGlyphs" stroke="#991D47" stroke-width="0.65" >Beta blockers</text>
<path d="M307,219 L307,249.6 M299.2,249.6 L314.8,249.6" stroke="#991D47" stroke-width="1.7" fill="none"/>
<path d="M414.90,178.00 L414.90,167.30 M411.90,170.10 L414.90,167.00 L417.90,170.10" stroke="#2A2426" stroke-width="1.25" fill="none"/>
<text x="421.3" y="177.7" font-family='"Liberation Sans", sans-serif' font-size="12.4" font-weight="normal" fill="#2E2A2C" text-anchor="start" textLength="114.8" lengthAdjust="spacingAndGlyphs" stroke="#2E2A2C" stroke-width="0.22" >Survival in circulation</text>
<path d="M414.90,192.60 L414.90,181.90 M411.90,184.70 L414.90,181.60 L417.90,184.70" stroke="#2A2426" stroke-width="1.25" fill="none"/>
<text x="421.3" y="192.3" font-family='"Liberation Sans", sans-serif' font-size="12.4" font-weight="normal" fill="#2E2A2C" text-anchor="start" textLength="85.6" lengthAdjust="spacingAndGlyphs" stroke="#2E2A2C" stroke-width="0.22" >Immune escape</text>
<path d="M473.4,200.5 L473.4,231.5 M465.59999999999997,200.5 L481.2,200.5" stroke="#991D47" stroke-width="1.7" fill="none"/>
<text x="473.2" y="245" font-family='"Liberation Sans", sans-serif' font-size="12.4" font-weight="normal" fill="#991D47" text-anchor="middle" textLength="110.1" lengthAdjust="spacingAndGlyphs" stroke="#991D47" stroke-width="0.65" >Immune modulation</text>
<path d="M267.00,267.60 L267.00,256.90 M264.00,259.70 L267.00,256.60 L270.00,259.70" stroke="#2A2426" stroke-width="1.25" fill="none"/>
<text x="273.3" y="267.3" font-family='"Liberation Sans", sans-serif' font-size="12.4" font-weight="normal" fill="#2E2A2C" text-anchor="start" textLength="152.1" lengthAdjust="spacingAndGlyphs" stroke="#2E2A2C" stroke-width="0.22" >Pro-inflammatory cytokines,</text>
<text x="262.5" y="281" font-family='"Liberation Sans", sans-serif' font-size="12.4" font-weight="normal" fill="#2E2A2C" text-anchor="start" textLength="190.9" lengthAdjust="spacingAndGlyphs" stroke="#2E2A2C" stroke-width="0.22" >prostaglandins and catecholamines</text>
<path d="M558.30,128.80 L558.30,118.10 M555.30,120.90 L558.30,117.80 L561.30,120.90" stroke="#2A2426" stroke-width="1.25" fill="none"/>
<text x="565.3" y="128.5" font-family='"Liberation Sans", sans-serif' font-size="12.4" font-weight="normal" fill="#2E2A2C" text-anchor="start" textLength="27.8" lengthAdjust="spacingAndGlyphs" stroke="#2E2A2C" stroke-width="0.22" >NETs</text>
<path d="M558.30,143.90 L558.30,133.20 M555.30,136.00 L558.30,132.90 L561.30,136.00" stroke="#2A2426" stroke-width="1.25" fill="none"/>
<text x="565.3" y="143.6" font-family='"Liberation Sans", sans-serif' font-size="12.4" font-weight="normal" fill="#2E2A2C" text-anchor="start" textLength="64.1" lengthAdjust="spacingAndGlyphs" stroke="#2E2A2C" stroke-width="0.22" >Entrapment</text>
<path d="M558.30,158.70 L558.30,148.00 M555.30,150.80 L558.30,147.70 L561.30,150.80" stroke="#2A2426" stroke-width="1.25" fill="none"/>
<text x="565.3" y="158.4" font-family='"Liberation Sans", sans-serif' font-size="12.4" font-weight="normal" fill="#2E2A2C" text-anchor="start" textLength="122.5" lengthAdjust="spacingAndGlyphs" stroke="#2E2A2C" stroke-width="0.22" >Invasion and migration</text>
<path d="M601.8,171.8 L601.8,202.8 M594.0,171.8 L609.5999999999999,171.8" stroke="#991D47" stroke-width="1.7" fill="none"/>
<text x="602.1" y="216.4" font-family='"Liberation Sans", sans-serif' font-size="12.4" font-weight="normal" fill="#991D47" text-anchor="middle" textLength="37.6" lengthAdjust="spacingAndGlyphs" stroke="#991D47" stroke-width="0.65" >DNAse</text>
<path d="M581.80,262.00 L581.80,251.30 M578.80,254.10 L581.80,251.00 L584.80,254.10" stroke="#2A2426" stroke-width="1.25" fill="none"/>
<text x="588.5" y="261.7" font-family='"Liberation Sans", sans-serif' font-size="12.4" font-weight="normal" fill="#2E2A2C" text-anchor="start" textLength="50.6" lengthAdjust="spacingAndGlyphs" stroke="#2E2A2C" stroke-width="0.22" >Adhesion</text>
<path d="M581.80,277.30 L581.80,266.60 M578.80,269.40 L581.80,266.30 L584.80,269.40" stroke="#2A2426" stroke-width="1.25" fill="none"/>
<text x="588.5" y="277" font-family='"Liberation Sans", sans-serif' font-size="12.4" font-weight="normal" fill="#2E2A2C" text-anchor="start" textLength="76.7" lengthAdjust="spacingAndGlyphs" stroke="#2E2A2C" stroke-width="0.22" >ECM exposure</text>
<text x="83.0" y="274.7" font-family='"Liberation Sans", sans-serif' font-size="12.4" font-weight="normal" fill="#1C1C1C" text-anchor="middle" textLength="107.5" lengthAdjust="spacingAndGlyphs" stroke="#1C1C1C" stroke-width="0.65" >Surgery: primary or</text>
<text x="82.6" y="289.5" font-family='"Liberation Sans", sans-serif' font-size="12.4" font-weight="normal" fill="#1C1C1C" text-anchor="middle" textLength="92.6" lengthAdjust="spacingAndGlyphs" stroke="#1C1C1C" stroke-width="0.65" >metastatic lesion</text>
<text x="485.5" y="381.1" font-family='"Liberation Sans", sans-serif' font-size="12.4" font-weight="normal" fill="#1A1A1A" text-anchor="middle" textLength="124.0" lengthAdjust="spacingAndGlyphs" stroke="#1A1A1A" stroke-width="0.65" >New metastatic foci or</text>
<text x="485.4" y="395.6" font-family='"Liberation Sans", sans-serif' font-size="12.4" font-weight="normal" fill="#1A1A1A" text-anchor="middle" textLength="132.9" lengthAdjust="spacingAndGlyphs" stroke="#1A1A1A" stroke-width="0.65" >micrometastatic disease</text>
<path d="M430.90,418.00 L430.90,407.30 M427.90,410.10 L430.90,407.00 L433.90,410.10" stroke="#2A2426" stroke-width="1.25" fill="none"/>
<text x="437.5" y="417.7" font-family='"Liberation Sans", sans-serif' font-size="12.4" font-weight="normal" fill="#2E2A2C" text-anchor="start" textLength="109.0" lengthAdjust="spacingAndGlyphs" stroke="#2E2A2C" stroke-width="0.22" >Immunosuppression</text>
<path d="M430.90,422.20 L430.90,432.90 M427.90,430.10 L430.90,433.20 L433.90,430.10" stroke="#2A2426" stroke-width="1.25" fill="none"/>
<text x="437.5" y="433.2" font-family='"Liberation Sans", sans-serif' font-size="12.4" font-weight="normal" fill="#2E2A2C" text-anchor="start" textLength="64.6" lengthAdjust="spacingAndGlyphs" stroke="#2E2A2C" stroke-width="0.22" >Cytotoxicity</text>
<path d="M430.90,448.00 L430.90,437.30 M427.90,440.10 L430.90,437.00 L433.90,440.10" stroke="#2A2426" stroke-width="1.25" fill="none"/>
<text x="437.5" y="447.7" font-family='"Liberation Sans", sans-serif' font-size="12.4" font-weight="normal" fill="#2E2A2C" text-anchor="start" textLength="134.9" lengthAdjust="spacingAndGlyphs" stroke="#2E2A2C" stroke-width="0.22" >Pro-inflammatory factors</text>
<path d="M430.90,462.50 L430.90,451.80 M427.90,454.60 L430.90,451.50 L433.90,454.60" stroke="#2A2426" stroke-width="1.25" fill="none"/>
<text x="437.5" y="462.2" font-family='"Liberation Sans", sans-serif' font-size="12.4" font-weight="normal" fill="#2E2A2C" text-anchor="start" textLength="103.4" lengthAdjust="spacingAndGlyphs" stroke="#2E2A2C" stroke-width="0.22" >Tumor proliferation</text>
<rect x="187.5" y="405.2" width="180.5" height="62" fill="#FCE8A0" stroke="#FFFFFF" stroke-width="1.5" filter="url(#boxsh)"/>
<text x="277.9" y="425" font-family='"Liberation Sans", sans-serif' font-size="12.4" font-weight="normal" fill="#992A2E" text-anchor="middle" textLength="111.1" lengthAdjust="spacingAndGlyphs" stroke="#992A2E" stroke-width="0.65" >Immune modulation</text>
<text x="277.6" y="439.7" font-family='"Liberation Sans", sans-serif' font-size="12.4" font-weight="normal" fill="#992A2E" text-anchor="middle" textLength="110.4" lengthAdjust="spacingAndGlyphs" stroke="#992A2E" stroke-width="0.65" >Early chemotherapy</text>
<text x="277.6" y="454.7" font-family='"Liberation Sans", sans-serif' font-size="12.4" font-weight="normal" fill="#992A2E" text-anchor="middle" textLength="159.4" lengthAdjust="spacingAndGlyphs" stroke="#992A2E" stroke-width="0.65" >COX inhibitors/Beta blockers</text>
<path d="M368.7,435.6 L417.4,435.6 M417.4,428.8 L417.4,443.6" stroke="#991D47" stroke-width="1.6" fill="none"/>
<text x="736.1" y="498.1" font-family='"Liberation Sans", sans-serif' font-size="9.9" font-weight="normal" fill="#333333" text-anchor="end" textLength="201.5" lengthAdjust="spacingAndGlyphs" stroke="#333333" stroke-width="0.22" >© 2017 American Association for Cancer Research</text>
<text x="8.8" y="517.2" font-family='"Liberation Sans", sans-serif' font-size="11.6" font-weight="bold" fill="#141414" text-anchor="start" textLength="138.0" lengthAdjust="spacingAndGlyphs" stroke="#141414" stroke-width="0.5" font-style="italic">Cancer Research Reviews</text>
<g fill="none" stroke="#161616" stroke-width="1.75" stroke-linejoin="round"><path d="M696.7,517.7 L701.2,508.7 L705.8,517.7 M698.9,514.3 L703.3,514.3"/><path d="M704.3,517.7 L708.9,508.7 L713.5,517.7 M706.5,514.3 L711,514.3"/><path d="M724.3,510.1 A4.5,4.5 0 1 0 724.3,516.1"/><path d="M719.3,513.1 L729,513.1"/><path d="M729.4,517.8 L729.4,508.7 L732.4,508.7 C734.5,508.7 735.6,509.9 735.6,511.3 C735.6,512.8 734.5,513.8 732.4,513.8 L729.4,513.8 M732.3,513.8 L735.9,517.8"/></g>
</svg>
</body></html>
